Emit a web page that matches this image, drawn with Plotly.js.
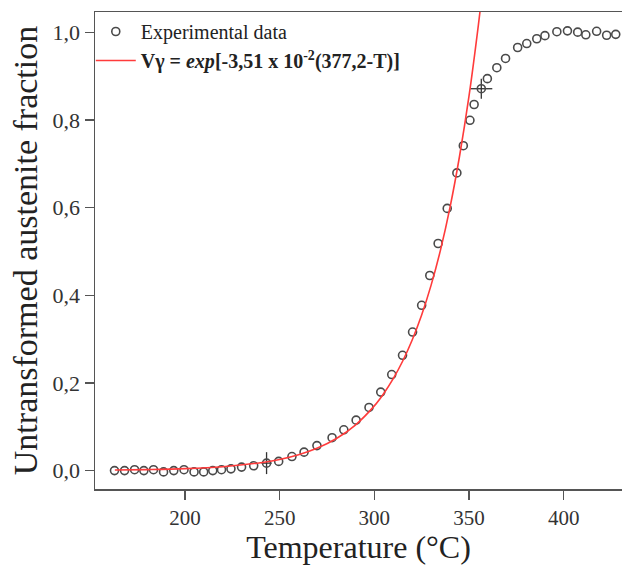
<!DOCTYPE html>
<html>
<head>
<meta charset="utf-8">
<script src="https://cdn.plot.ly/plotly-3.0.1.min.js"></script>
<style>html,body{margin:0;padding:0;background:#fff;}#chart{width:622px;height:565px;}</style>
</head>
<body>
<div id="chart"></div>
<script>
var expT = [162.8,168.1,173.4,178.3,183.4,188.7,194.1,199.5,204.8,209.9,214.7,219.3,224.3,229.9,236.3,243.1,249.5,256.5,262.9,269.7,277.7,283.9,290.4,297.2,303.4,309.2,314.9,320.2,325.0,329.3,333.7,338.5,343.6,347.0,350.5,352.7,356.5,359.7,364.7,369.3,375.7,380.5,385.8,390.1,396.4,402.0,407.4,411.7,417.4,422.7,427.5];
var expV = [0.000,0.000,0.002,0.000,0.002,-0.003,0.000,0.002,-0.003,-0.003,0.000,0.002,0.004,0.008,0.011,0.017,0.021,0.032,0.042,0.057,0.075,0.093,0.115,0.144,0.179,0.219,0.263,0.316,0.377,0.445,0.518,0.598,0.679,0.741,0.799,0.835,0.871,0.894,0.919,0.940,0.965,0.974,0.985,0.992,1.001,1.003,1.000,0.994,1.002,0.993,0.995];
// error bars (only on two points)
var errX = [0,0,0,0,0,0,0,0,0,0,0,0,0,0,0,2.7,0,0,0,0,0,0,0,0,0,0,0,0,0,0,0,0,0,0,0,0,5.8,0,0,0,0,0,0,0,0,0,0,0,0,0,0];
var errY = [0,0,0,0,0,0,0,0,0,0,0,0,0,0,0,0.025,0,0,0,0,0,0,0,0,0,0,0,0,0,0,0,0,0,0,0,0,0.023,0,0,0,0,0,0,0,0,0,0,0,0,0,0];
// Fitted curve
var fitT = [163,180,200,220,240,250,260,270,280,290,300,305,310,315,320,325,330,335,340,345,350,355,357];
var fitV = [0.0012,0.0022,0.0044,0.0089,0.0180,0.0255,0.0363,0.0515,0.0732,0.1039,0.1476,0.176,0.2097,0.250,0.298,0.355,0.423,0.504,0.601,0.717,0.854,1.018,1.092];
var yTicks = [0,0.2,0.4,0.6,0.8,1.0];
var xTicks = [200,250,300,350,400];

var font = 'Liberation Serif, Times New Roman, serif';
var traces = [
  {
    x: expT, y: expV, type: 'scatter', mode: 'markers', name: 'Experimental data',
    marker: {symbol: 'circle-open', size: 8, color: '#4a4a4a', line: {width: 1.6, color: '#4a4a4a'}},
    error_x: {type: 'data', array: errX, visible: true, width: 0, thickness: 1.3, color: '#333'},
    error_y: {type: 'data', array: errY, visible: true, width: 0, thickness: 1.3, color: '#333'}
  },
  {
    x: fitT, y: fitV, type: 'scatter', mode: 'lines', line: {color: '#ff3b3b', width: 1.6, shape: 'spline'},
    name: '<b>Vγ&nbsp;=&nbsp;<i>exp</i>[-3,51 x 10<sup>-2</sup>(377,2-T)]</b>'
  }
];
var layout = {
  width: 622, height: 565,
  margin: {l: 95, r: 0, t: 12, b: 76},
  paper_bgcolor: '#fff', plot_bgcolor: '#fff',
  separators: ', ',
  font: {family: font, color: '#333'},
  showlegend: true,
  legend: {x: -0.008, y: 1.0, xanchor: 'left', yanchor: 'top', bgcolor: 'rgba(0,0,0,0)', borderwidth: 0,
           itemwidth: 40,
           font: {family: font, size: 20, color: '#222'}, tracegroupgap: 0},
  xaxis: {
    range: [152.5, 430.8], tickvals: xTicks, ticks: 'outside', ticklen: 9, tickwidth: 1.3, tickcolor: '#555',
    showline: true, linecolor: '#555', linewidth: 1.5, mirror: true, showgrid: false, zeroline: false,
    tickfont: {family: font, size: 21, color: '#333'},
    title: {text: 'Temperature (°C)', font: {family: font, size: 32, color: '#222'}, standoff: 10}
  },
  yaxis: {
    range: [-0.042, 1.046], tickvals: yTicks, tickformat: '.1f', ticks: 'outside', ticklen: 9, tickwidth: 1.3, tickcolor: '#555',
    showline: true, linecolor: '#555', linewidth: 1.5, showgrid: false, zeroline: false,
    tickfont: {family: font, size: 22, color: '#333'},
    title: {text: 'Untransformed austenite fraction', font: {family: font, size: 34, color: '#222'}, standoff: 4}
  }
};
Plotly.newPlot('chart', traces, layout, {displayModeBar: false, staticPlot: true});
</script>
</body>
</html>
